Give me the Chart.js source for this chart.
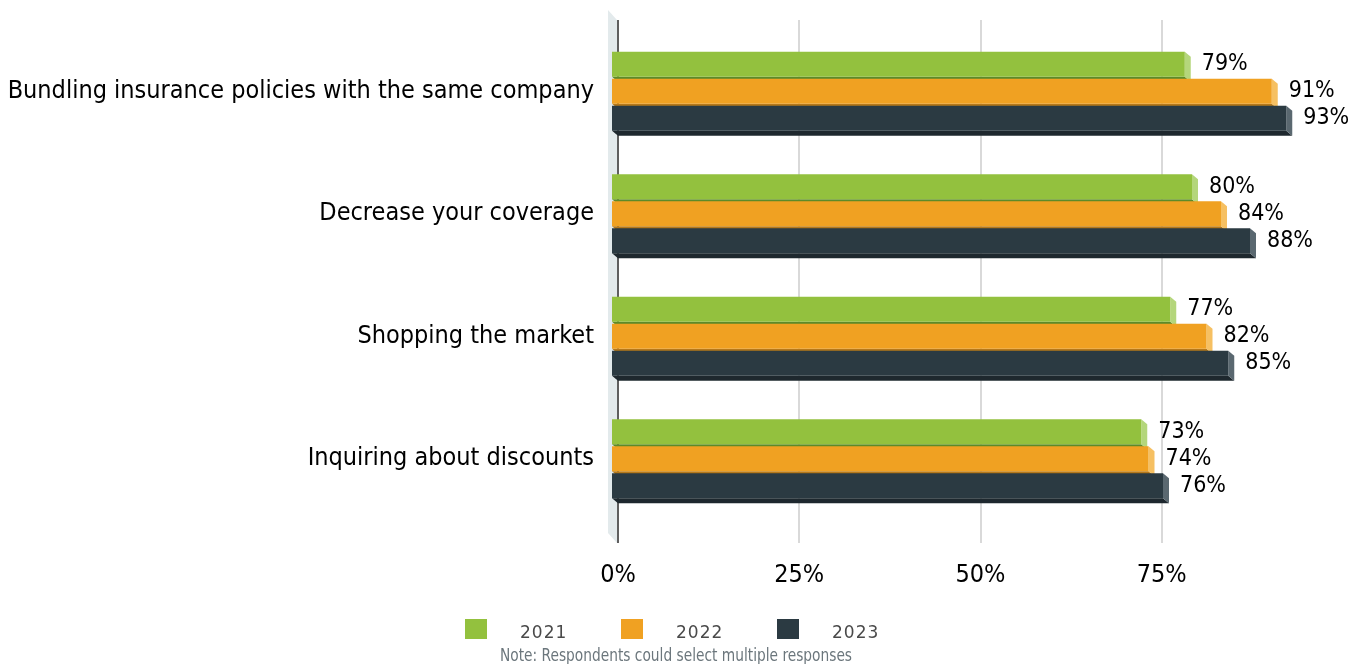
<!DOCTYPE html>
<html>
<head>
<meta charset="utf-8">
<title>Ways to lower insurance costs</title>
<script src="https://cdn.jsdelivr.net/npm/chart.js@4.4.1/dist/chart.umd.min.js"></script>
<style>
    html, body { margin: 0; padding: 0; background: #fff; }
    .chart-wrap { position: relative; width: 1365px; height: 664px; overflow: hidden; }
    .legend { position: absolute; top: 619px; left: 465px; display: flex; }
    .legend-item { display: flex; align-items: center; width: 156px; height: 20px; }
    .legend-swatch { width: 22px; height: 20px; margin-right: 33px; }
    .legend-text { font: 400 17px "DejaVu Sans", sans-serif; color: #4a4a4a; letter-spacing: 1px; line-height: 20px; padding-top: 6px; }
    .note { position: absolute; top: 644px; left: 500px; font: 18px "DejaVu Sans Condensed", sans-serif; color: #6b767c; white-space: nowrap; transform: scaleX(0.85); transform-origin: left top; }
</style>
</head>
<body>
<div class="chart-wrap">
    <canvas id="costChart" width="1365" height="664"></canvas>
    <div class="legend" id="legend"></div>
    <div class="note">Note: Respondents could select multiple responses</div>
</div>
<script>
const categories = [
    'Bundling insurance policies with the same company',
    'Decrease your coverage',
    'Shopping the market',
    'Inquiring about discounts'
];
const years = ['2021', '2022', '2023'];
const values2021 = [79, 80, 77, 73];
const values2022 = [91, 84, 82, 74];
const values2023 = [93, 88, 85, 76];
const xTicks = [0, 25, 50, 75];

// front / side / bottom shades for each year's bars
const palette = [
    { front: '#93c13e', side: '#b4d67b', bottom: '#5d8a29' },
    { front: '#f0a122', side: '#f6c062', bottom: '#b5781a' },
    { front: '#2b3a42', side: '#5a6870', bottom: '#1e282e' }
];
const depth = { dx: 6, dy: 5 };

Chart.defaults.font.family = '"DejaVu Sans Condensed", Tahoma, sans-serif';
Chart.defaults.color = '#000';

function poly(ctx, pts, color) {
    ctx.fillStyle = color;
    ctx.beginPath();
    ctx.moveTo(pts[0][0], pts[0][1]);
    for (let i = 1; i < pts.length; i++) ctx.lineTo(pts[i][0], pts[i][1]);
    ctx.closePath();
    ctx.fill();
}

// back wall, grid lines and the hidden faces of each bar
const backdrop3d = {
    id: 'backdrop3d',
    beforeDatasetsDraw(chart) {
        const { ctx, chartArea, scales: { x } } = chart;
        const wallTop = chartArea.top - 10;
        const wallBottom = chartArea.bottom + 23;
        const axisX = x.getPixelForValue(0) + depth.dx;
        ctx.save();

        poly(ctx, [
            [axisX - 10, wallTop - 10], [axisX - 1, wallTop],
            [axisX - 1, wallBottom], [axisX - 10, wallBottom - 10]
        ], '#e3eaec');

        ctx.lineWidth = 2;
        ctx.strokeStyle = '#d9d9d9';
        xTicks.slice(1).forEach(v => {
            const gx = Math.round(x.getPixelForValue(v)) + depth.dx;
            ctx.beginPath();
            ctx.moveTo(gx, wallTop);
            ctx.lineTo(gx, wallBottom);
            ctx.stroke();
        });
        ctx.strokeStyle = '#5f5f5f';
        ctx.beginPath();
        ctx.moveTo(axisX, wallTop);
        ctx.lineTo(axisX, wallBottom);
        ctx.stroke();

        chart.data.datasets.forEach((ds, i) => {
            const shades = palette[i];
            chart.getDatasetMeta(i).data.forEach(bar => {
                const { x: right, y, base: left, height } = bar.getProps(['x', 'y', 'base', 'height'], true);
                const top = y - height / 2;
                const bottom = y + height / 2;
                poly(ctx, [
                    [left, bottom], [right, bottom],
                    [right + depth.dx, bottom + depth.dy], [left + depth.dx, bottom + depth.dy]
                ], shades.bottom);
                poly(ctx, [
                    [right, top], [right + depth.dx, top + depth.dy],
                    [right + depth.dx, bottom + depth.dy], [right, bottom]
                ], shades.side);
            });
        });
        ctx.restore();
    },
    afterDatasetsDraw(chart) {
        const { ctx } = chart;
        ctx.save();
        ctx.font = '23px "DejaVu Sans Condensed", Tahoma, sans-serif';
        ctx.fillStyle = '#000';
        ctx.textAlign = 'left';
        ctx.textBaseline = 'middle';
        chart.data.datasets.forEach((ds, i) => {
            chart.getDatasetMeta(i).data.forEach((bar, j) => {
                const { x, y } = bar.getProps(['x', 'y'], true);
                ctx.fillText(ds.data[j] + '%', x + depth.dx + 11, y);
            });
        });
        ctx.restore();
    }
};

const series = [values2021, values2022, values2023];

const ctx = document.getElementById('costChart').getContext('2d');
const costChart = new Chart(ctx, {
    type: 'bar',
    data: {
        labels: categories,
        datasets: years.map((year, i) => ({
            label: year,
            data: series[i],
            backgroundColor: palette[i].front,
            borderWidth: 0,
            categoryPercentage: 0.661,
            barPercentage: 0.926
        }))
    },
    options: {
        indexAxis: 'y',
        responsive: false,
        animation: false,
        layout: {
            padding: { top: 30, right: 28, left: 0, bottom: 0 }
        },
        plugins: {
            legend: { display: false }, // HTML legend below
            tooltip: { enabled: false }
        },
        scales: {
            y: {
                grid: { display: false, drawTicks: false },
                border: { display: false },
                ticks: {
                    padding: 18,
                    font: { size: 25 }
                },
                afterFit(scale) {
                    scale.width = 612;
                    scale.paddingTop = 0;
                    scale.paddingBottom = 0;
                }
            },
            x: {
                min: 0,
                max: 100,
                grid: { display: false, drawTicks: false },
                border: { display: false },
                ticks: {
                    stepSize: 25,
                    padding: 40,
                    labelOffset: depth.dx,
                    font: { size: 25 },
                    callback: value => xTicks.includes(value) ? value + '%' : ''
                },
                afterFit(scale) {
                    scale.height = 144;
                    // tick padding shouldn't eat into the right edge
                    scale.paddingLeft = 0;
                    scale.paddingRight = 0;
                }
            }
        }
    },
    plugins: [backdrop3d]
});

// custom legend
const legendEl = document.getElementById('legend');
years.forEach((year, i) => {
    const item = document.createElement('div');
    item.className = 'legend-item';
    item.innerHTML = '<span class="legend-swatch" style="background:' + palette[i].front + '"></span>' +
        '<span class="legend-text">' + year + '</span>';
    legendEl.appendChild(item);
});
</script>
</body>
</html>
